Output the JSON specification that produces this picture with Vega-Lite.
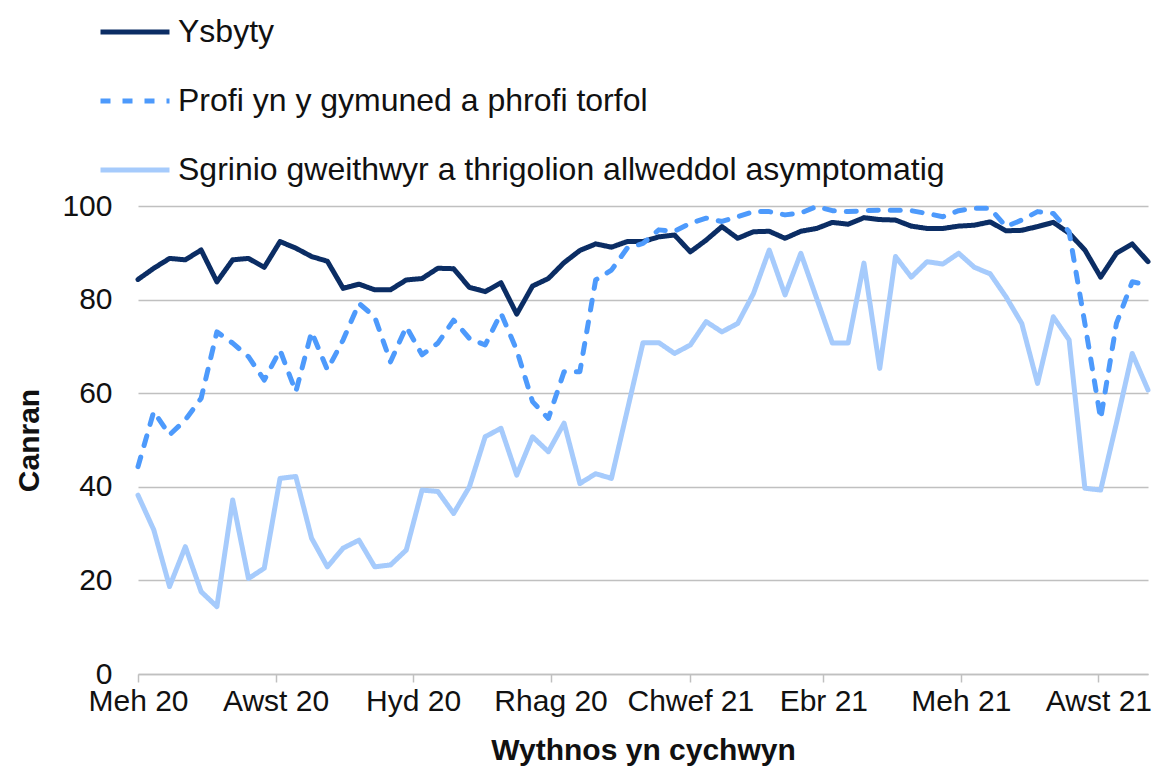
{
  "$schema": "https://vega.github.io/schema/vega-lite/v6.json",
  "autosize": {"type": "none"},
  "padding": {"left": 138, "top": 206, "right": 5, "bottom": 99},
  "width": 1010,
  "height": 468,
  "background": "white",
  "config": {
    "view": {"stroke": null},
    "font": "Liberation Sans"
  },
  "data": {
    "values": [
      {"week": "2020-06-01T00:00:00", "Ysbyty": 84.3, "Profi": 44.3, "Sgrinio": 38.2},
      {"week": "2020-06-08T00:00:00", "Ysbyty": 86.7, "Profi": 56.1, "Sgrinio": 30.8},
      {"week": "2020-06-15T00:00:00", "Ysbyty": 88.8, "Profi": 51.1, "Sgrinio": 18.7},
      {"week": "2020-06-22T00:00:00", "Ysbyty": 88.5, "Profi": 54.3, "Sgrinio": 27.2},
      {"week": "2020-06-29T00:00:00", "Ysbyty": 90.6, "Profi": 58.9, "Sgrinio": 17.6},
      {"week": "2020-07-06T00:00:00", "Ysbyty": 83.8, "Profi": 73.1, "Sgrinio": 14.4},
      {"week": "2020-07-13T00:00:00", "Ysbyty": 88.5, "Profi": 70.7, "Sgrinio": 37.2},
      {"week": "2020-07-20T00:00:00", "Ysbyty": 88.8, "Profi": 67.8, "Sgrinio": 20.4},
      {"week": "2020-07-27T00:00:00", "Ysbyty": 86.9, "Profi": 62.8, "Sgrinio": 22.6},
      {"week": "2020-08-03T00:00:00", "Ysbyty": 92.4, "Profi": 69.2, "Sgrinio": 41.8},
      {"week": "2020-08-10T00:00:00", "Ysbyty": 91.0, "Profi": 60.3, "Sgrinio": 42.2},
      {"week": "2020-08-17T00:00:00", "Ysbyty": 89.2, "Profi": 73.1, "Sgrinio": 29.0},
      {"week": "2020-08-24T00:00:00", "Ysbyty": 88.2, "Profi": 65.0, "Sgrinio": 22.9},
      {"week": "2020-08-31T00:00:00", "Ysbyty": 82.4, "Profi": 71.4, "Sgrinio": 26.9},
      {"week": "2020-09-07T00:00:00", "Ysbyty": 83.3, "Profi": 79.2, "Sgrinio": 28.6},
      {"week": "2020-09-14T00:00:00", "Ysbyty": 82.1, "Profi": 76.3, "Sgrinio": 22.9},
      {"week": "2020-09-21T00:00:00", "Ysbyty": 82.1, "Profi": 66.7, "Sgrinio": 23.3},
      {"week": "2020-09-28T00:00:00", "Ysbyty": 84.2, "Profi": 74.2, "Sgrinio": 26.5},
      {"week": "2020-10-05T00:00:00", "Ysbyty": 84.5, "Profi": 68.2, "Sgrinio": 39.3},
      {"week": "2020-10-12T00:00:00", "Ysbyty": 86.7, "Profi": 70.7, "Sgrinio": 39.0},
      {"week": "2020-10-19T00:00:00", "Ysbyty": 86.6, "Profi": 75.6, "Sgrinio": 34.3},
      {"week": "2020-10-26T00:00:00", "Ysbyty": 82.6, "Profi": 71.7, "Sgrinio": 40.0},
      {"week": "2020-11-02T00:00:00", "Ysbyty": 81.7, "Profi": 70.3, "Sgrinio": 50.7},
      {"week": "2020-11-09T00:00:00", "Ysbyty": 83.6, "Profi": 77.1, "Sgrinio": 52.5},
      {"week": "2020-11-16T00:00:00", "Ysbyty": 76.9, "Profi": 69.2, "Sgrinio": 42.5},
      {"week": "2020-11-23T00:00:00", "Ysbyty": 82.9, "Profi": 58.2, "Sgrinio": 50.7},
      {"week": "2020-11-30T00:00:00", "Ysbyty": 84.5, "Profi": 54.6, "Sgrinio": 47.5},
      {"week": "2020-12-07T00:00:00", "Ysbyty": 87.9, "Profi": 64.6, "Sgrinio": 53.6},
      {"week": "2020-12-14T00:00:00", "Ysbyty": 90.5, "Profi": 64.6, "Sgrinio": 40.7},
      {"week": "2020-12-21T00:00:00", "Ysbyty": 91.9, "Profi": 84.2, "Sgrinio": 42.8},
      {"week": "2020-12-28T00:00:00", "Ysbyty": 91.2, "Profi": 86.3, "Sgrinio": 41.8},
      {"week": "2021-01-04T00:00:00", "Ysbyty": 92.4, "Profi": 91.0, "Sgrinio": 56.3},
      {"week": "2021-01-11T00:00:00", "Ysbyty": 92.4, "Profi": 92.0, "Sgrinio": 70.8},
      {"week": "2021-01-18T00:00:00", "Ysbyty": 93.4, "Profi": 94.9, "Sgrinio": 70.8},
      {"week": "2021-01-25T00:00:00", "Ysbyty": 93.8, "Profi": 94.6, "Sgrinio": 68.5},
      {"week": "2021-02-01T00:00:00", "Ysbyty": 90.2, "Profi": 96.3, "Sgrinio": 70.3},
      {"week": "2021-02-08T00:00:00", "Ysbyty": 92.7, "Profi": 97.4, "Sgrinio": 75.3},
      {"week": "2021-02-15T00:00:00", "Ysbyty": 95.6, "Profi": 96.7, "Sgrinio": 73.1},
      {"week": "2021-02-22T00:00:00", "Ysbyty": 93.1, "Profi": 97.7, "Sgrinio": 74.9},
      {"week": "2021-03-01T00:00:00", "Ysbyty": 94.5, "Profi": 98.8, "Sgrinio": 81.3},
      {"week": "2021-03-08T00:00:00", "Ysbyty": 94.6, "Profi": 98.8, "Sgrinio": 90.6},
      {"week": "2021-03-15T00:00:00", "Ysbyty": 93.1, "Profi": 98.1, "Sgrinio": 81.0},
      {"week": "2021-03-22T00:00:00", "Ysbyty": 94.6, "Profi": 98.5, "Sgrinio": 89.9},
      {"week": "2021-03-29T00:00:00", "Ysbyty": 95.2, "Profi": 99.9, "Sgrinio": 80.3},
      {"week": "2021-04-05T00:00:00", "Ysbyty": 96.5, "Profi": 99.0, "Sgrinio": 70.7},
      {"week": "2021-04-12T00:00:00", "Ysbyty": 96.1, "Profi": 98.8, "Sgrinio": 70.7},
      {"week": "2021-04-19T00:00:00", "Ysbyty": 97.5, "Profi": 99.0, "Sgrinio": 87.8},
      {"week": "2021-04-26T00:00:00", "Ysbyty": 97.1, "Profi": 99.1, "Sgrinio": 65.3},
      {"week": "2021-05-03T00:00:00", "Ysbyty": 97.0, "Profi": 99.1, "Sgrinio": 89.2},
      {"week": "2021-05-10T00:00:00", "Ysbyty": 95.7, "Profi": 99.0, "Sgrinio": 84.8},
      {"week": "2021-05-17T00:00:00", "Ysbyty": 95.2, "Profi": 98.4, "Sgrinio": 88.1},
      {"week": "2021-05-24T00:00:00", "Ysbyty": 95.2, "Profi": 97.7, "Sgrinio": 87.6},
      {"week": "2021-05-31T00:00:00", "Ysbyty": 95.7, "Profi": 99.0, "Sgrinio": 89.9},
      {"week": "2021-06-07T00:00:00", "Ysbyty": 95.9, "Profi": 99.5, "Sgrinio": 86.9},
      {"week": "2021-06-14T00:00:00", "Ysbyty": 96.6, "Profi": 99.5, "Sgrinio": 85.5},
      {"week": "2021-06-21T00:00:00", "Ysbyty": 94.7, "Profi": 95.6, "Sgrinio": 80.6},
      {"week": "2021-06-28T00:00:00", "Ysbyty": 94.8, "Profi": 97.0, "Sgrinio": 74.9},
      {"week": "2021-07-05T00:00:00", "Ysbyty": 95.6, "Profi": 98.8, "Sgrinio": 62.1},
      {"week": "2021-07-12T00:00:00", "Ysbyty": 96.5, "Profi": 98.4, "Sgrinio": 76.3},
      {"week": "2021-07-19T00:00:00", "Ysbyty": 94.2, "Profi": 94.5, "Sgrinio": 71.4},
      {"week": "2021-07-26T00:00:00", "Ysbyty": 90.6, "Profi": 74.9, "Sgrinio": 39.7},
      {"week": "2021-08-02T00:00:00", "Ysbyty": 84.8, "Profi": 54.5, "Sgrinio": 39.3},
      {"week": "2021-08-09T00:00:00", "Ysbyty": 89.9, "Profi": 74.9, "Sgrinio": 53.6},
      {"week": "2021-08-16T00:00:00", "Ysbyty": 91.9, "Profi": 83.8, "Sgrinio": 68.5},
      {"week": "2021-08-23T00:00:00", "Ysbyty": 88.1, "Profi": 83.1, "Sgrinio": 60.7}
    ]
  },
  "transform": [
    {"fold": ["Ysbyty", "Profi", "Sgrinio"], "as": ["series", "value"]}
  ],
  "mark": {"type": "line", "strokeWidth": 5, "strokeCap": "round", "strokeJoin": "round"},
  "encoding": {
    "x": {
      "field": "week",
      "type": "temporal",
      "scale": {"domain": ["2020-06-01T00:00:00", "2021-08-23T00:00:00"]},
      "axis": {
        "values": [
          {"year": 2020, "month": 6, "date": 1},
          {"year": 2020, "month": 8, "date": 1},
          {"year": 2020, "month": 10, "date": 1},
          {"year": 2020, "month": 12, "date": 1},
          {"year": 2021, "month": 2, "date": 1},
          {"year": 2021, "month": 4, "date": 1},
          {"year": 2021, "month": 6, "date": 1},
          {"year": 2021, "month": 8, "date": 1}
        ],
        "labelExpr": "['Ion','Chwef','Maw','Ebr','Mai','Meh','Gorff','Awst','Medi','Hyd','Tach','Rhag'][month(datum.value)] + ' ' + timeFormat(datum.value, '%y')",
        "grid": false,
        "domain": true,
        "domainColor": "#c0c0c0",
        "domainWidth": 1.5,
        "ticks": true,
        "tickColor": "#c0c0c0",
        "tickWidth": 1.5,
        "tickSize": 8,
        "labelFontSize": 30,
        "labelColor": "#111111",
        "labelPadding": 4,
        "labelFlush": false,
        "labelOverlap": false,
        "title": "Wythnos yn cychwyn",
        "titleFontSize": 30,
        "titleFontWeight": "bold",
        "titleColor": "#111111",
        "titlePadding": 19
      }
    },
    "y": {
      "field": "value",
      "type": "quantitative",
      "scale": {"domain": [0, 100]},
      "axis": {
        "values": [0, 20, 40, 60, 80, 100],
        "grid": true,
        "gridColor": "#c0c0c0",
        "gridWidth": 1.5,
        "domain": false,
        "ticks": false,
        "labelPadding": 26,
        "labelFontSize": 30,
        "labelColor": "#111111",
        "title": "Canran",
        "titleFontSize": 30,
        "titleFontWeight": "bold",
        "titleColor": "#111111",
        "titlePadding": 17
      }
    },
    "color": {
      "field": "series",
      "type": "nominal",
      "scale": {
        "domain": ["Ysbyty", "Profi", "Sgrinio"],
        "range": ["#0b2d64", "#4d9afc", "#a6cbfc"]
      },
      "legend": {
        "orient": "none",
        "legendX": -40,
        "legendY": -211,
        "direction": "vertical",
        "title": null,
        "symbolType": "stroke",
        "symbolSize": 4761,
        "symbolStrokeWidth": 5,
        "labelFontSize": 32,
        "labelColor": "#111111",
        "labelOffset": 6,
        "labelLimit": 1000,
        "rowPadding": 16,
        "labelExpr": "datum.label == 'Profi' ? 'Profi yn y gymuned a phrofi torfol' : datum.label == 'Sgrinio' ? 'Sgrinio gweithwyr a thrigolion allweddol asymptomatig' : datum.label"
      }
    },
    "strokeDash": {
      "field": "series",
      "type": "nominal",
      "scale": {
        "domain": ["Ysbyty", "Profi", "Sgrinio"],
        "range": [[1, 0], [10, 12], [1, 0]]
      },
      "legend": null
    }
  }
}
